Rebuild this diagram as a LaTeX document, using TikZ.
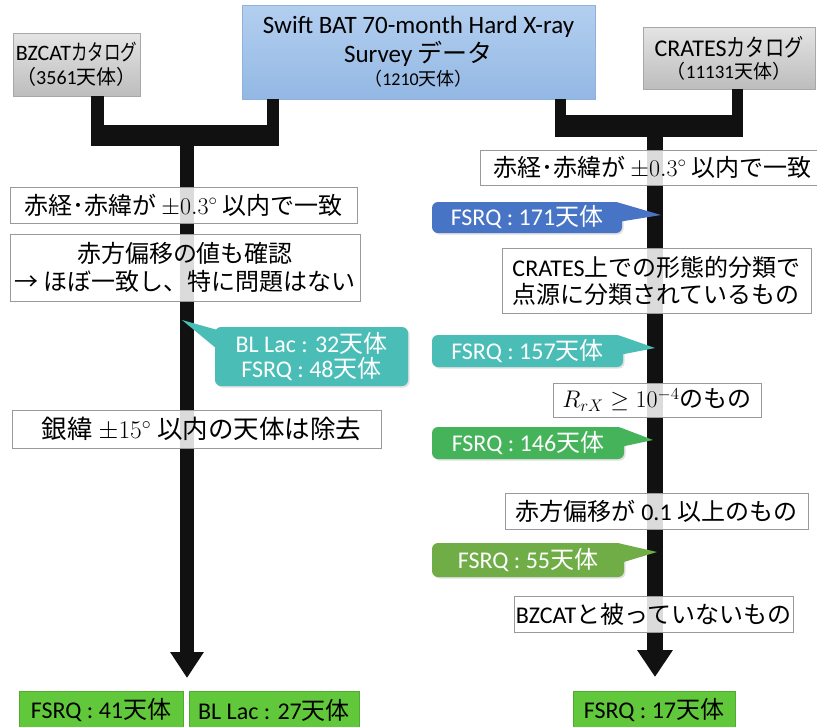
\RequirePackage{fix-cm}
\documentclass[tikz,border=0pt]{standalone}
\usepackage{fontspec}
\setmainfont{Noto Sans CJK JP}
\newfontfamily\lat{Carlito}
\newfontfamily\jpa{Noto Sans CJK JP}[FakeStretch=0.75]
\newfontfamily\jpb{Noto Sans CJK JP}[FakeStretch=0.8]
\usetikzlibrary{calc,shadows,arrows.meta}
\definecolor{gtop}{HTML}{E4E4E4}
\definecolor{gbot}{HTML}{BDBDBD}
\definecolor{gborder}{HTML}{A8A8A8}
\definecolor{btop}{HTML}{B3CFEF}
\definecolor{bbot}{HTML}{93B8E4}
\definecolor{bborder}{HTML}{8FB2DC}
\definecolor{boxgray}{HTML}{9A9A9A}
\definecolor{cblue}{HTML}{4874C6}
\definecolor{cteal}{HTML}{4ABDB6}
\definecolor{cgreen}{HTML}{45B35A}
\definecolor{colive}{HTML}{70AD47}
\definecolor{fgreen}{HTML}{62C83B}
\definecolor{barc}{HTML}{111111}
\begin{document}
\begin{tikzpicture}[x=1pt,y=-1pt,
  big/.style={font=\fontsize{24}{28}\selectfont},
  graybox/.style={draw=gborder, line width=0.8pt, top color=gtop, bottom color=gbot, inner sep=0pt, align=center},
  bluebox/.style={draw=bborder, line width=0.8pt, top color=btop, bottom color=bbot, inner sep=0pt, align=center},
  wbox/.style={big, draw=boxgray, line width=1pt, fill=white, fill opacity=0.85, text opacity=1, inner sep=0pt, align=center},
  callout/.style={big, rounded corners=6pt, text=white, inner sep=0pt, align=center,
    drop shadow={shadow xshift=1.5pt, shadow yshift=-1.5pt, opacity=0.25}},
  finbox/.style={big, fill=fgreen, draw=fgreen!85!black, line width=0.6pt, inner sep=0pt, align=center},
  bar/.style={draw=barc, line cap=butt},
  trunk/.style={draw=barc, fill=barc, line cap=butt}
]
\useasboundingbox (0,0) rectangle (817,726);

% ---------- top boxes ----------
\path
 node[graybox, minimum width=127pt, minimum height=63pt] (bz) at (76.5,64.5)
   {{\fontsize{22}{25}\selectfont{\lat BZCAT}{\jpa カタログ}}\\[4pt]{\fontsize{20}{23}\selectfont（{\lat 3561}天体）}}
 node[bluebox, minimum width=353pt, minimum height=94pt] (sw) at (418.5,52)
   {{\fontsize{25}{28}\selectfont{\lat Swift BAT 70-month Hard X-ray}}\\[2pt]{\fontsize{25}{28}\selectfont{\lat Survey} データ}\\[3pt]{\fontsize{18}{21}\selectfont（{\lat 1210}天体）}}
 node[graybox, minimum width=172pt, minimum height=62pt] (cr) at (729,58)
   {{\fontsize{24}{26}\selectfont{\lat CRATES}{\jpb カタログ}}\\[3pt]{\fontsize{19}{22}\selectfont（{\lat 11131}天体）}};

% ---------- connector coordinates ----------
\coordinate (ls1) at (97.5,135.5);
\coordinate (ls2) at (273,135.5);
\coordinate (lj)  at (187,135.5);
\coordinate (la)  at (187,678);
\coordinate (rs1) at (560.5,126);
\coordinate (rs2) at (737.5,126);
\coordinate (rj)  at (655,126);
\coordinate (ra)  at (655,677);

% left tree
\draw[bar, line width=13pt] (bz.south -| ls1) -- (ls1);
\draw[bar, line width=12pt] (sw.south -| ls2) -- (ls2);
\draw[bar, line width=21pt] ($(ls1)+(-6.5,0)$) -- ($(ls2)+(6,0)$);
\draw[trunk, line width=14pt, -{Triangle[width=32pt,length=26pt]}] (lj) -- (la);
% right tree
\draw[bar, line width=11pt] (sw.south -| rs1) -- (rs1);
\draw[bar, line width=11pt] (cr.south -| rs2) -- (rs2);
\draw[bar, line width=22pt] ($(rs1)+(-5.5,0)$) -- ($(rs2)+(5.5,0)$);
\draw[trunk, line width=16pt, -{Triangle[width=34pt,length=27pt]}] (rj) -- (ra);

% ---------- left column ----------
\node[wbox, minimum width=347pt, minimum height=36pt] (l1) at (183.5,205)
  {赤経･赤緯が $\pm0.3^{\circ}$ 以内で一致};
\node[wbox, minimum width=350pt, minimum height=67pt, font=\fontsize{24}{28}\selectfont] (l2) at (185,267.5)
  {赤方偏移の値も確認\\→ ほぼ一致し、特に問題はない};
\node[callout, fill=cteal, minimum width=193pt, minimum height=59pt, font=\fontsize{24}{25}\selectfont] (lc) at (311.5,356.5)
  {{\lat BL Lac : 32}天体\\{\lat FSRQ : 48}天体};
\coordinate (lct) at (182,320);
\fill[cteal] ($(lc.north west)+(2,3)$) -- (lct) -- ($(lc.north west)+(2,22)$) -- cycle;
\node[wbox, minimum width=369pt, minimum height=38pt, font=\fontsize{25.5}{29}\selectfont] (l3) at (196.5,429)
  {\hspace*{10pt}銀緯 $\pm15^{\circ}$ 以内の天体は除去};
\node[finbox, minimum width=164pt, minimum height=38pt] (lf1) at (101,710)
  {{\lat FSRQ : 41}天体};
\node[finbox, minimum width=170pt, minimum height=38pt] (lf2) at (274,710)
  {{\lat BL Lac : 27}天体};

% ---------- right column ----------
\node[wbox, minimum width=345pt, minimum height=35pt] (r1) at (652.5,167.5)
  {赤経･赤緯が $\pm0.3^{\circ}$ 以内で一致};
\node[callout, fill=cblue, minimum width=190pt, minimum height=31pt] (rc1) at (527,217.5)
  {{\lat FSRQ : 171}天体};
\coordinate (rt1) at (661,215);
\fill[cblue] ($(rc1.north east)+(-3,1)$) -- (rt1) -- ($(rc1.north east)+(-3,20)$) -- cycle;
\node[wbox, minimum width=309pt, minimum height=65pt, align=left, font=\fontsize{24}{27}\selectfont] (r2) at (656.5,280.5)
  {{\lat CRATES}上での形態的分類で\\点源に分類されているもの};
\node[callout, fill=cteal, minimum width=191pt, minimum height=32pt] (rc2) at (527.5,351)
  {{\lat FSRQ : 157}天体};
\coordinate (rt2) at (655,348);
\fill[cteal] ($(rc2.north east)+(-3,1)$) -- (rt2) -- ($(rc2.north east)+(-3,20)$) -- cycle;
\node[wbox, minimum width=208pt, minimum height=34pt] (r3) at (657,400)
  {$R_{rX}\geq 10^{-4}$のもの};
\node[callout, fill=cgreen, minimum width=192pt, minimum height=32pt] (rc3) at (528,443)
  {{\lat FSRQ : 146}天体};
\coordinate (rt3) at (653,440);
\fill[cgreen] ($(rc3.north east)+(-3,1)$) -- (rt3) -- ($(rc3.north east)+(-3,20)$) -- cycle;
\node[wbox, minimum width=303pt, minimum height=36pt] (r4) at (656.5,511)
  {赤方偏移が {\lat 0.1} 以上のもの};
\node[callout, fill=colive, minimum width=192pt, minimum height=34pt] (rc4) at (528,560)
  {{\lat FSRQ : 55}天体};
\coordinate (rt4) at (657,552);
\fill[colive] ($(rc4.north east)+(-3,1)$) -- (rt4) -- ($(rc4.north east)+(-3,20)$) -- cycle;
\node[wbox, minimum width=279pt, minimum height=36pt] (r5) at (653.5,614)
  {{\lat BZCAT}と被っていないもの};
\node[finbox, minimum width=162pt, minimum height=38pt] (rf) at (654,710)
  {{\lat FSRQ : 17}天体};
\end{tikzpicture}
\end{document}
